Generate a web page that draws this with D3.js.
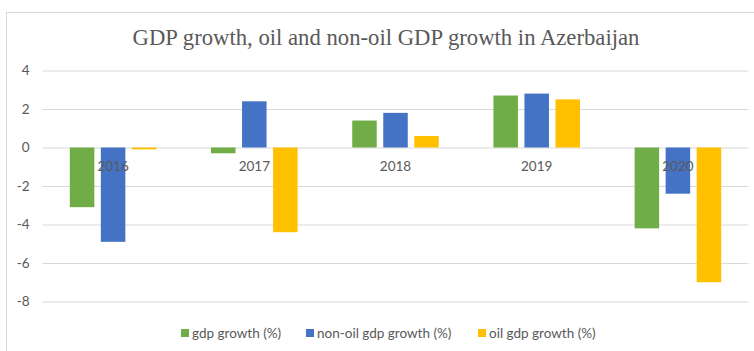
<!DOCTYPE html>
<html>
<head>
<meta charset="utf-8">
<script src="https://cdn.jsdelivr.net/npm/d3@7"></script>
<style>
  html, body { margin: 0; padding: 0; background: #fff; }
  svg { display: block; }
</style>
</head>
<body>
<svg id="chart" width="754" height="351"></svg>
<script>
// Chart data
const years = ["2016", "2017", "2018", "2019", "2020"];
const seriesNames = ["gdp growth (%)", "non-oil gdp growth (%)", "oil gdp growth (%)"];
const gdpGrowth = [-3.1, -0.3, 1.4, 2.7, -4.2];
const nonOilGrowth = [-4.9, 2.4, 1.8, 2.8, -2.4];
const oilGrowth = [-0.1, -4.4, 0.6, 2.5, -7.0];
const yTicks = [4, 2, 0, -2, -4, -6, -8];
const colors = ["#70AD47", "#4472C4", "#FFC000"];

const seriesValues = [gdpGrowth, nonOilGrowth, oilGrowth];

const svg = d3.select("#chart");
const W = 754, H = 351;

// Chart area frame
svg.append("rect")
  .attr("x", 6.5).attr("y", 12.5)
  .attr("width", W + 20).attr("height", H + 20)
  .attr("fill", "#fff")
  .attr("stroke", "#d9d9d9").attr("stroke-width", 1);

const plot = { left: 42.5, right: 748.5, top: 70.5, bottom: 301.5 };

const y = d3.scaleLinear().domain([-8, 4]).range([plot.bottom, plot.top]);
const x0 = d3.scaleBand().domain(years).range([plot.left, plot.right]).padding(0);
const groupFrac = 0.613;
const x1 = d3.scaleBand().domain(seriesNames)
  .range([x0.bandwidth() * (1 - groupFrac) / 2, x0.bandwidth() * (1 + groupFrac) / 2])
  .paddingInner(0.21);

// Title
svg.append("text")
  .attr("x", 386).attr("y", 45)
  .attr("text-anchor", "middle")
  .attr("font-family", "'Liberation Serif', 'Times New Roman', serif")
  .attr("font-size", 22.7)
  .attr("fill", "#595959")
  .text("GDP growth, oil and non-oil GDP growth in Azerbaijan");

// Gridlines
const yAxis = d3.axisLeft(y).tickValues(yTicks).tickSize(-(plot.right - plot.left)).tickFormat(d3.format("d"));
const gAxis = svg.append("g")
  .attr("transform", `translate(${plot.left},0)`)
  .call(yAxis);
gAxis.select(".domain").remove();
gAxis.selectAll(".tick line").attr("stroke", "#d9d9d9").attr("stroke-width", 1);
gAxis.selectAll(".tick text")
  .attr("x", -13)
  .attr("fill", "#595959")
  .attr("font-family", "Lato, 'Open Sans', sans-serif")
  .attr("font-size", 13.5)
  .text(d => d < 0 ? "-" + Math.abs(d) : d);

// Bars
const rows = years.map((yr, i) => ({ year: yr, vals: seriesNames.map((s, j) => ({ s, j, v: seriesValues[j][i] })) }));
const groups = svg.append("g").selectAll("g")
  .data(rows).join("g")
  .attr("transform", d => `translate(${x0(d.year)},0)`);
groups.selectAll("rect")
  .data(d => d.vals).join("rect")
  .attr("x", d => x1(d.s))
  .attr("width", x1.bandwidth())
  .attr("y", d => y(Math.max(0, d.v)))
  .attr("height", d => Math.abs(y(d.v) - y(0)))
  .attr("fill", d => colors[d.j]);

// Category labels, drawn over the bars next to the zero line
const xAxis = d3.axisBottom(x0).tickSize(0).tickPadding(0);
const gx = svg.append("g").attr("transform", `translate(0,${y(0)})`).call(xAxis);
gx.select(".domain").remove();
gx.selectAll(".tick text")
  .attr("y", 19)
  .attr("dy", "0.32em")
  .attr("fill", "#595959")
  .attr("font-family", "Lato, 'Open Sans', sans-serif")
  .attr("font-size", 13.5);

// Legend
const legendItems = [
  { name: seriesNames[0], x: 181 },
  { name: seriesNames[1], x: 306 },
  { name: seriesNames[2], x: 478 }
];
const lg = svg.append("g").selectAll("g").data(legendItems).join("g")
  .attr("transform", d => `translate(${d.x},333)`);
lg.append("rect")
  .attr("x", 0).attr("y", -4).attr("width", 8).attr("height", 8)
  .attr("fill", (d, i) => colors[i]);
lg.append("text")
  .attr("x", 11).attr("y", 0).attr("dy", "0.35em")
  .attr("fill", "#595959")
  .attr("font-family", "Lato, 'Open Sans', sans-serif")
  .attr("font-size", 13.5)
  .text(d => d.name);
</script>
</body>
</html>
